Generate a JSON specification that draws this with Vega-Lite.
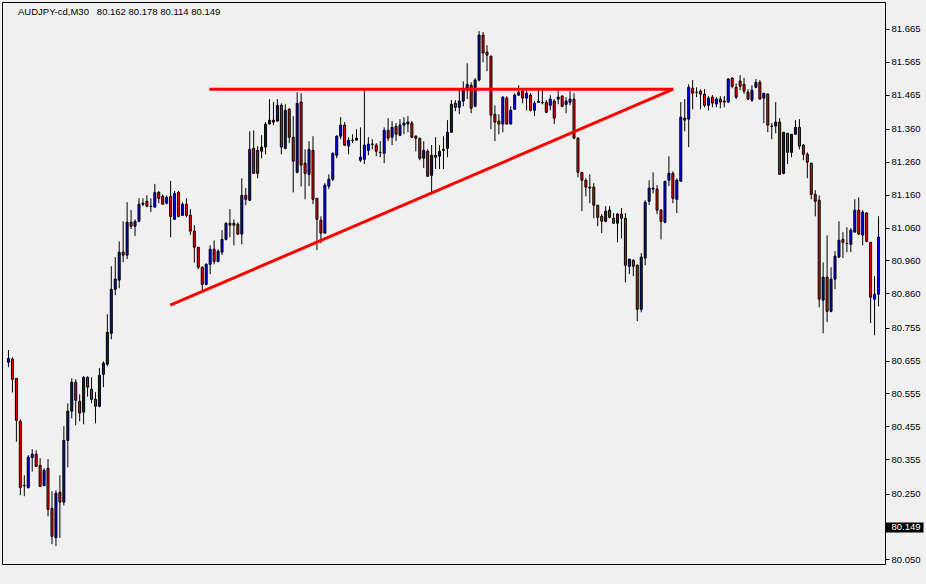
{
"$schema": "https://vega.github.io/schema/vega-lite/v6.json",
"width": 883, "height": 562,
"autosize": {"type": "none"},
"padding": {"left": 2, "top": 2, "right": 41, "bottom": 20},
"background": "#f0f0f0",
"config": {"view": {"stroke": "#000000", "strokeWidth": 1, "fill": "#f0f0f0"}, "font": "Liberation Sans"},
"title": {"text": "AUDJPY-cd,M30\u00a0\u00a0 80.162 80.178 80.114 80.149", "anchor": "start", "frame": "group", "offset": -22, "dx": 16, "fontSize": 9.5, "fontWeight": "normal", "font": "Liberation Sans", "color": "#000000", "baseline": "alphabetic"},
"datasets": {
"candles": [
{"i":0,"o":80.650,"h":80.687,"l":80.635,"c":80.662},
{"i":1,"o":80.659,"h":80.665,"l":80.558,"c":80.598},
{"i":2,"o":80.601,"h":80.601,"l":80.408,"c":80.473},
{"i":3,"o":80.470,"h":80.476,"l":80.245,"c":80.269},
{"i":4,"o":80.275,"h":80.306,"l":80.242,"c":80.274},
{"i":5,"o":80.268,"h":80.367,"l":80.266,"c":80.361},
{"i":6,"o":80.360,"h":80.385,"l":80.317,"c":80.370},
{"i":7,"o":80.370,"h":80.382,"l":80.333,"c":80.333},
{"i":8,"o":80.336,"h":80.358,"l":80.272,"c":80.272},
{"i":9,"o":80.274,"h":80.327,"l":80.274,"c":80.321},
{"i":10,"o":80.327,"h":80.355,"l":80.181,"c":80.202},
{"i":11,"o":80.205,"h":80.257,"l":80.096,"c":80.120},
{"i":12,"o":80.116,"h":80.260,"l":80.090,"c":80.251},
{"i":13,"o":80.254,"h":80.306,"l":80.115,"c":80.224},
{"i":14,"o":80.224,"h":80.455,"l":80.214,"c":80.412},
{"i":15,"o":80.412,"h":80.525,"l":80.330,"c":80.501},
{"i":16,"o":80.501,"h":80.601,"l":80.479,"c":80.589},
{"i":17,"o":80.589,"h":80.598,"l":80.458,"c":80.534},
{"i":18,"o":80.531,"h":80.552,"l":80.470,"c":80.495},
{"i":19,"o":80.498,"h":80.607,"l":80.461,"c":80.604},
{"i":20,"o":80.604,"h":80.607,"l":80.545,"c":80.574},
{"i":21,"o":80.568,"h":80.604,"l":80.525,"c":80.537},
{"i":22,"o":80.537,"h":80.559,"l":80.464,"c":80.516},
{"i":23,"o":80.516,"h":80.632,"l":80.513,"c":80.610},
{"i":24,"o":80.613,"h":80.653,"l":80.574,"c":80.647},
{"i":25,"o":80.644,"h":80.796,"l":80.638,"c":80.741},
{"i":26,"o":80.738,"h":80.942,"l":80.720,"c":80.872},
{"i":27,"o":80.872,"h":80.970,"l":80.854,"c":80.903},
{"i":28,"o":80.900,"h":81.018,"l":80.875,"c":80.985},
{"i":29,"o":80.985,"h":81.079,"l":80.954,"c":80.976},
{"i":30,"o":80.976,"h":81.137,"l":80.964,"c":81.076},
{"i":31,"o":81.076,"h":81.113,"l":81.055,"c":81.064},
{"i":32,"o":81.064,"h":81.085,"l":81.034,"c":81.079},
{"i":33,"o":81.079,"h":81.149,"l":81.076,"c":81.131},
{"i":34,"o":81.131,"h":81.149,"l":81.125,"c":81.134},
{"i":35,"o":81.140,"h":81.158,"l":81.122,"c":81.125},
{"i":36,"o":81.125,"h":81.149,"l":81.107,"c":81.124},
{"i":37,"o":81.122,"h":81.193,"l":81.122,"c":81.167},
{"i":38,"o":81.167,"h":81.171,"l":81.134,"c":81.149},
{"i":39,"o":81.155,"h":81.161,"l":81.131,"c":81.131},
{"i":40,"o":81.134,"h":81.158,"l":81.131,"c":81.152},
{"i":41,"o":81.155,"h":81.202,"l":81.030,"c":81.094},
{"i":42,"o":81.085,"h":81.171,"l":81.085,"c":81.164},
{"i":43,"o":81.167,"h":81.171,"l":81.091,"c":81.094},
{"i":44,"o":81.097,"h":81.137,"l":81.097,"c":81.131},
{"i":45,"o":81.131,"h":81.149,"l":81.091,"c":81.097},
{"i":46,"o":81.097,"h":81.116,"l":81.037,"c":81.049},
{"i":47,"o":81.049,"h":81.067,"l":80.953,"c":81.000},
{"i":48,"o":81.000,"h":81.000,"l":80.933,"c":80.939},
{"i":49,"o":80.939,"h":80.942,"l":80.869,"c":80.887},
{"i":50,"o":80.887,"h":80.951,"l":80.884,"c":80.948},
{"i":51,"o":80.948,"h":81.006,"l":80.918,"c":80.994},
{"i":52,"o":80.994,"h":81.021,"l":80.948,"c":80.957},
{"i":53,"o":80.957,"h":80.994,"l":80.954,"c":80.988},
{"i":54,"o":80.985,"h":81.052,"l":80.976,"c":81.024},
{"i":55,"o":81.024,"h":81.076,"l":81.021,"c":81.073},
{"i":56,"o":81.073,"h":81.116,"l":81.030,"c":81.067},
{"i":57,"o":81.073,"h":81.085,"l":81.006,"c":81.067},
{"i":58,"o":81.070,"h":81.076,"l":81.037,"c":81.040},
{"i":59,"o":81.040,"h":81.210,"l":81.009,"c":81.158},
{"i":60,"o":81.158,"h":81.180,"l":81.128,"c":81.146},
{"i":61,"o":81.143,"h":81.353,"l":81.143,"c":81.298},
{"i":62,"o":81.301,"h":81.356,"l":81.225,"c":81.225},
{"i":63,"o":81.295,"h":81.308,"l":81.210,"c":81.225},
{"i":64,"o":81.292,"h":81.341,"l":81.271,"c":81.305},
{"i":65,"o":81.305,"h":81.381,"l":81.283,"c":81.375},
{"i":66,"o":81.375,"h":81.451,"l":81.375,"c":81.387},
{"i":67,"o":81.387,"h":81.442,"l":81.372,"c":81.381},
{"i":68,"o":81.384,"h":81.451,"l":81.384,"c":81.432},
{"i":69,"o":81.432,"h":81.438,"l":81.283,"c":81.305},
{"i":70,"o":81.301,"h":81.435,"l":81.298,"c":81.417},
{"i":71,"o":81.420,"h":81.423,"l":81.317,"c":81.335},
{"i":72,"o":81.335,"h":81.399,"l":81.167,"c":81.262},
{"i":73,"o":81.228,"h":81.472,"l":81.225,"c":81.438},
{"i":74,"o":81.442,"h":81.469,"l":81.185,"c":81.250},
{"i":75,"o":81.256,"h":81.298,"l":81.146,"c":81.225},
{"i":76,"o":81.222,"h":81.323,"l":81.186,"c":81.298},
{"i":77,"o":81.295,"h":81.338,"l":81.131,"c":81.146},
{"i":78,"o":81.149,"h":81.149,"l":80.991,"c":81.085},
{"i":79,"o":81.082,"h":81.094,"l":81.012,"c":81.043},
{"i":80,"o":81.043,"h":81.195,"l":81.043,"c":81.189},
{"i":81,"o":81.186,"h":81.222,"l":81.177,"c":81.207},
{"i":82,"o":81.207,"h":81.289,"l":81.201,"c":81.286},
{"i":83,"o":81.280,"h":81.341,"l":81.271,"c":81.338},
{"i":84,"o":81.338,"h":81.396,"l":81.329,"c":81.372},
{"i":85,"o":81.372,"h":81.381,"l":81.308,"c":81.311},
{"i":86,"o":81.308,"h":81.335,"l":81.283,"c":81.326},
{"i":87,"o":81.326,"h":81.344,"l":81.317,"c":81.325},
{"i":88,"o":81.326,"h":81.359,"l":81.326,"c":81.332},
{"i":89,"o":81.265,"h":81.365,"l":81.259,"c":81.274},
{"i":90,"o":81.268,"h":81.478,"l":81.253,"c":81.311},
{"i":91,"o":81.295,"h":81.335,"l":81.280,"c":81.314},
{"i":92,"o":81.314,"h":81.329,"l":81.298,"c":81.313},
{"i":93,"o":81.311,"h":81.317,"l":81.277,"c":81.292},
{"i":94,"o":81.289,"h":81.323,"l":81.274,"c":81.288},
{"i":95,"o":81.286,"h":81.365,"l":81.256,"c":81.356},
{"i":96,"o":81.356,"h":81.393,"l":81.323,"c":81.332},
{"i":97,"o":81.335,"h":81.384,"l":81.311,"c":81.365},
{"i":98,"o":81.368,"h":81.378,"l":81.323,"c":81.344},
{"i":99,"o":81.341,"h":81.390,"l":81.338,"c":81.372},
{"i":100,"o":81.372,"h":81.396,"l":81.344,"c":81.378},
{"i":101,"o":81.375,"h":81.399,"l":81.350,"c":81.381},
{"i":102,"o":81.378,"h":81.384,"l":81.332,"c":81.335},
{"i":103,"o":81.338,"h":81.341,"l":81.292,"c":81.332},
{"i":104,"o":81.332,"h":81.332,"l":81.265,"c":81.271},
{"i":105,"o":81.271,"h":81.323,"l":81.241,"c":81.295},
{"i":106,"o":81.292,"h":81.298,"l":81.216,"c":81.216},
{"i":107,"o":81.219,"h":81.311,"l":81.161,"c":81.280},
{"i":108,"o":81.280,"h":81.335,"l":81.238,"c":81.274},
{"i":109,"o":81.277,"h":81.311,"l":81.238,"c":81.292},
{"i":110,"o":81.298,"h":81.338,"l":81.238,"c":81.295},
{"i":111,"o":81.301,"h":81.387,"l":81.274,"c":81.350},
{"i":112,"o":81.350,"h":81.448,"l":81.350,"c":81.435},
{"i":113,"o":81.438,"h":81.448,"l":81.414,"c":81.426},
{"i":114,"o":81.426,"h":81.478,"l":81.405,"c":81.445},
{"i":115,"o":81.445,"h":81.505,"l":81.429,"c":81.478},
{"i":116,"o":81.478,"h":81.560,"l":81.451,"c":81.496},
{"i":117,"o":81.493,"h":81.502,"l":81.408,"c":81.423},
{"i":118,"o":81.429,"h":81.515,"l":81.429,"c":81.509},
{"i":119,"o":81.509,"h":81.658,"l":81.505,"c":81.646},
{"i":120,"o":81.646,"h":81.655,"l":81.563,"c":81.591},
{"i":121,"o":81.594,"h":81.615,"l":81.536,"c":81.585},
{"i":122,"o":81.582,"h":81.582,"l":81.359,"c":81.402},
{"i":123,"o":81.405,"h":81.432,"l":81.323,"c":81.381},
{"i":124,"o":81.384,"h":81.405,"l":81.344,"c":81.375},
{"i":125,"o":81.375,"h":81.460,"l":81.350,"c":81.457},
{"i":126,"o":81.454,"h":81.460,"l":81.375,"c":81.375},
{"i":127,"o":81.375,"h":81.429,"l":81.375,"c":81.417},
{"i":128,"o":81.420,"h":81.469,"l":81.420,"c":81.463},
{"i":129,"o":81.463,"h":81.493,"l":81.463,"c":81.472},
{"i":130,"o":81.475,"h":81.481,"l":81.438,"c":81.454},
{"i":131,"o":81.454,"h":81.475,"l":81.417,"c":81.469},
{"i":132,"o":81.463,"h":81.469,"l":81.414,"c":81.417},
{"i":133,"o":81.417,"h":81.445,"l":81.399,"c":81.438},
{"i":134,"o":81.441,"h":81.478,"l":81.441,"c":81.445},
{"i":135,"o":81.441,"h":81.478,"l":81.435,"c":81.440},
{"i":136,"o":81.441,"h":81.448,"l":81.408,"c":81.411},
{"i":137,"o":81.432,"h":81.463,"l":81.417,"c":81.451},
{"i":138,"o":81.445,"h":81.451,"l":81.375,"c":81.393},
{"i":139,"o":81.451,"h":81.478,"l":81.435,"c":81.457},
{"i":140,"o":81.460,"h":81.463,"l":81.426,"c":81.429},
{"i":141,"o":81.435,"h":81.457,"l":81.408,"c":81.445},
{"i":142,"o":81.441,"h":81.475,"l":81.432,"c":81.451},
{"i":143,"o":81.451,"h":81.469,"l":81.329,"c":81.332},
{"i":144,"o":81.332,"h":81.335,"l":81.213,"c":81.228},
{"i":145,"o":81.228,"h":81.228,"l":81.110,"c":81.204},
{"i":146,"o":81.204,"h":81.210,"l":81.155,"c":81.183},
{"i":147,"o":81.183,"h":81.222,"l":81.134,"c":81.180},
{"i":148,"o":81.183,"h":81.195,"l":81.088,"c":81.128},
{"i":149,"o":81.128,"h":81.128,"l":81.064,"c":81.091},
{"i":150,"o":81.094,"h":81.101,"l":81.043,"c":81.079},
{"i":151,"o":81.079,"h":81.125,"l":81.076,"c":81.110},
{"i":152,"o":81.113,"h":81.125,"l":81.088,"c":81.091},
{"i":153,"o":81.088,"h":81.104,"l":81.073,"c":81.073},
{"i":154,"o":81.073,"h":81.104,"l":81.015,"c":81.101},
{"i":155,"o":81.101,"h":81.119,"l":81.027,"c":81.088},
{"i":156,"o":81.088,"h":81.104,"l":80.893,"c":80.945},
{"i":157,"o":80.942,"h":80.964,"l":80.918,"c":80.964},
{"i":158,"o":80.960,"h":80.964,"l":80.912,"c":80.942},
{"i":159,"o":80.945,"h":80.948,"l":80.775,"c":80.811},
{"i":160,"o":80.811,"h":80.982,"l":80.802,"c":80.970},
{"i":161,"o":80.967,"h":81.143,"l":80.945,"c":81.137},
{"i":162,"o":81.140,"h":81.204,"l":81.128,"c":81.180},
{"i":163,"o":81.177,"h":81.228,"l":81.164,"c":81.180},
{"i":164,"o":81.177,"h":81.189,"l":81.101,"c":81.113},
{"i":165,"o":81.113,"h":81.116,"l":81.024,"c":81.079},
{"i":166,"o":81.076,"h":81.201,"l":81.073,"c":81.201},
{"i":167,"o":81.204,"h":81.277,"l":81.186,"c":81.225},
{"i":168,"o":81.225,"h":81.231,"l":81.134,"c":81.149},
{"i":169,"o":81.146,"h":81.210,"l":81.104,"c":81.204},
{"i":170,"o":81.201,"h":81.442,"l":81.201,"c":81.396},
{"i":171,"o":81.393,"h":81.451,"l":81.353,"c":81.387},
{"i":172,"o":81.390,"h":81.496,"l":81.305,"c":81.487},
{"i":173,"o":81.484,"h":81.509,"l":81.420,"c":81.469},
{"i":174,"o":81.472,"h":81.487,"l":81.457,"c":81.471},
{"i":175,"o":81.475,"h":81.481,"l":81.420,"c":81.466},
{"i":176,"o":81.466,"h":81.481,"l":81.426,"c":81.432},
{"i":177,"o":81.432,"h":81.460,"l":81.417,"c":81.454},
{"i":178,"o":81.457,"h":81.463,"l":81.426,"c":81.439},
{"i":179,"o":81.436,"h":81.457,"l":81.426,"c":81.451},
{"i":180,"o":81.451,"h":81.460,"l":81.423,"c":81.442},
{"i":181,"o":81.442,"h":81.460,"l":81.426,"c":81.445},
{"i":182,"o":81.442,"h":81.515,"l":81.439,"c":81.512},
{"i":183,"o":81.515,"h":81.518,"l":81.484,"c":81.490},
{"i":184,"o":81.487,"h":81.499,"l":81.451,"c":81.457},
{"i":185,"o":81.506,"h":81.524,"l":81.478,"c":81.490},
{"i":186,"o":81.496,"h":81.516,"l":81.467,"c":81.475},
{"i":187,"o":81.472,"h":81.481,"l":81.448,"c":81.451},
{"i":188,"o":81.448,"h":81.493,"l":81.442,"c":81.478},
{"i":189,"o":81.487,"h":81.512,"l":81.484,"c":81.502},
{"i":190,"o":81.502,"h":81.509,"l":81.451,"c":81.451},
{"i":191,"o":81.454,"h":81.469,"l":81.378,"c":81.469},
{"i":192,"o":81.466,"h":81.469,"l":81.350,"c":81.372},
{"i":193,"o":81.369,"h":81.378,"l":81.329,"c":81.368},
{"i":194,"o":81.369,"h":81.442,"l":81.347,"c":81.381},
{"i":195,"o":81.381,"h":81.393,"l":81.222,"c":81.222},
{"i":196,"o":81.225,"h":81.350,"l":81.222,"c":81.350},
{"i":197,"o":81.347,"h":81.347,"l":81.253,"c":81.289},
{"i":198,"o":81.289,"h":81.344,"l":81.274,"c":81.344},
{"i":199,"o":81.344,"h":81.387,"l":81.344,"c":81.365},
{"i":200,"o":81.365,"h":81.390,"l":81.298,"c":81.308},
{"i":201,"o":81.311,"h":81.314,"l":81.265,"c":81.283},
{"i":202,"o":81.283,"h":81.289,"l":81.210,"c":81.259},
{"i":203,"o":81.256,"h":81.256,"l":81.146,"c":81.161},
{"i":204,"o":81.161,"h":81.174,"l":81.094,"c":81.140},
{"i":205,"o":81.143,"h":81.158,"l":80.817,"c":80.842},
{"i":206,"o":80.839,"h":80.954,"l":80.738,"c":80.909},
{"i":207,"o":80.909,"h":81.036,"l":80.772,"c":80.805},
{"i":208,"o":80.805,"h":80.939,"l":80.802,"c":80.903},
{"i":209,"o":80.903,"h":80.988,"l":80.872,"c":80.973},
{"i":210,"o":80.970,"h":81.079,"l":80.967,"c":81.021},
{"i":211,"o":81.024,"h":81.046,"l":80.967,"c":81.015},
{"i":212,"o":81.012,"h":81.061,"l":80.985,"c":81.011},
{"i":213,"o":81.009,"h":81.058,"l":80.985,"c":81.052},
{"i":214,"o":81.046,"h":81.146,"l":81.046,"c":81.113},
{"i":215,"o":81.113,"h":81.152,"l":81.037,"c":81.040},
{"i":216,"o":81.037,"h":81.113,"l":81.006,"c":81.107},
{"i":217,"o":81.104,"h":81.107,"l":81.015,"c":81.018},
{"i":218,"o":81.015,"h":81.015,"l":80.769,"c":80.848},
{"i":219,"o":80.842,"h":80.912,"l":80.732,"c":80.857},
{"i":220,"o":80.857,"h":81.094,"l":80.820,"c":81.031}
],
"lines": [
{"g":"h","i":50.8,"p":81.481},
{"g":"h","i":168.1,"p":81.481},
{"g":"t","i":40.9,"p":80.824},
{"g":"t","i":168.1,"p":81.481}
]
},
"layer": [
{
"data": {"name": "candles"},
"mark": {"type": "rule", "color": "#000000", "strokeWidth": 1, "clip": true},
"encoding": {
"x": {"field": "i", "type": "quantitative", "scale": {"domain": [-0.375, 220.375], "nice": false, "zero": false},
"axis": {"orient": "bottom", "values": [0,16,32,48,64,80,96,112,128,144,160,176,192,208],
"labelExpr": "['21 Jul 2021','21 Jul 11:30','21 Jul 19:30','22 Jul 03:30','22 Jul 11:30','22 Jul 19:30','23 Jul 03:30','23 Jul 11:30','23 Jul 19:30','26 Jul 03:30','26 Jul 11:30','26 Jul 19:30','27 Jul 03:30','27 Jul 11:30'][round(datum.value/16)]",
"labelAlign": "left", "labelBaseline": "top", "tickSize": 3, "tickColor": "#000000", "labelPadding": 0, "domain": false, "grid": false, "title": null, "labelFont": "Liberation Sans", "labelFontSize": 9.5, "labelColor": "#000000", "labelFlush": false, "labelOverlap": false, "translate": 0}},
"y": {"field": "l", "type": "quantitative", "scale": {"domain": [80.0357, 81.7466], "nice": false, "zero": false},
"axis": {"orient": "right", "values": [81.665,81.565,81.465,81.360,81.260,81.160,81.060,80.960,80.860,80.755,80.655,80.555,80.455,80.355,80.250,80.050],
"format": ".3f", "tickSize": 4, "tickColor": "#000000", "labelPadding": 2, "domain": false, "grid": false, "title": null, "labelFont": "Liberation Sans", "labelFontSize": 9.5, "labelColor": "#000000", "labelOverlap": false, "labelFlush": false}},
"y2": {"field": "h"}
}
},
{
"data": {"name": "candles"},
"mark": {"type": "bar", "size": 2, "stroke": "#000000", "strokeWidth": 1, "clip": true},
"encoding": {
"x": {"field": "i", "type": "quantitative", "axis": null},
"y": {"field": "o", "type": "quantitative", "axis": null},
"y2": {"field": "c"},
"fill": {"condition": {"test": "datum.c > datum.o", "value": "#0000ff"}, "value": "#ff0000"}
}
},
{
"data": {"name": "lines"},
"mark": {"type": "line", "color": "#ff0000", "strokeWidth": 3, "clip": true},
"encoding": {
"x": {"field": "i", "type": "quantitative", "axis": null},
"y": {"field": "p", "type": "quantitative",
"axis": {"orient": "right", "values": [80.149], "format": ".3f", "tickSize": 38, "tickWidth": 10, "tickColor": "#000000", "labelColor": "#ffffff", "labelPadding": -32, "domain": false, "grid": false, "title": null, "labelFont": "Liberation Sans", "labelFontSize": 9.5}},
"detail": {"field": "g"}
}
}
],
"resolve": {"axis": {"y": "independent"}}
}
